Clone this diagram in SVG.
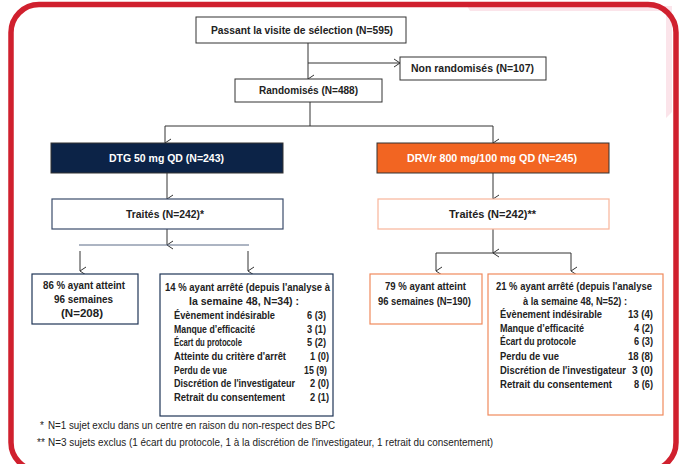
<svg xmlns="http://www.w3.org/2000/svg" width="681" height="464" viewBox="0 0 681 464">
<defs>
<marker id="arr" markerWidth="10" markerHeight="10" refX="5" refY="8" orient="auto" markerUnits="userSpaceOnUse" viewBox="0 0 10 10">
<path d="M1,2 L5,8 L9,2" fill="none" stroke="#333" stroke-width="1"/>
</marker>
<marker id="arrR" markerWidth="10" markerHeight="10" refX="8" refY="5" orient="0" markerUnits="userSpaceOnUse" viewBox="0 0 10 10">
<path d="M2,1 L8,5 L2,9" fill="none" stroke="#333" stroke-width="1"/>
</marker>
</defs>
<style>
text{font-family:"Liberation Sans",Arial,sans-serif;font-size:11.5px;font-weight:bold;fill:#222;}
.c{text-anchor:middle;}
.r{text-anchor:end;}
.w{fill:#fff;}
.box{fill:#fff;stroke:#333;stroke-width:1;}
.nv{fill:#fff;stroke:#1f3556;stroke-width:1.2;}
.or{fill:#fff;stroke:#f08a5d;stroke-width:1.2;}
.ln{fill:none;stroke:#333;stroke-width:1;}
.fn{font-size:10px;font-weight:normal;}
</style>
<rect width="681" height="464" fill="#fff"/>
<path d="M467,6 L672,6 L672,112 L666,118 L666,11 L470,11 Z" fill="#fbe4ea"/>
<rect x="11" y="4.5" width="665" height="466" rx="28" fill="none" stroke="#d0202e" stroke-width="5.5"/>

<g id="connectors">
<line class="ln" x1="308" y1="43" x2="308" y2="79" marker-end="url(#arr)"/>
<line class="ln" x1="308" y1="63" x2="400" y2="63" marker-end="url(#arrR)"/>
<line class="ln" x1="310" y1="102" x2="310" y2="126"/>
<line class="ln" x1="165" y1="126" x2="493" y2="126"/>
<line class="ln" x1="165" y1="126" x2="165" y2="143" marker-end="url(#arr)"/>
<line class="ln" x1="493" y1="126" x2="493" y2="143" marker-end="url(#arr)"/>
<line class="ln" x1="167" y1="173" x2="167" y2="199" marker-end="url(#arr)"/>
<line class="ln" x1="493" y1="173" x2="493" y2="199" marker-end="url(#arr)"/>
<line class="ln" x1="167" y1="229" x2="167" y2="245" marker-end="url(#arr)"/>
<line x1="79" y1="245" x2="249" y2="245" stroke="#5a6b86" stroke-width="1"/>
<line class="ln" x1="80" y1="251" x2="80" y2="271" marker-end="url(#arr)"/>
<line class="ln" x1="248" y1="251" x2="248" y2="271" marker-end="url(#arr)"/>
<line class="ln" x1="493" y1="229" x2="493" y2="253" marker-end="url(#arr)"/>
<line class="ln" x1="436" y1="253" x2="571" y2="253"/>
<line class="ln" x1="436" y1="253" x2="436" y2="271" marker-end="url(#arr)"/>
<line class="ln" x1="571" y1="253" x2="571" y2="271" marker-end="url(#arr)"/>
</g>

<g id="n-selection">
<rect class="box" x="196" y="17" width="210" height="26"/>
<text x="211" y="34" textLength="182" lengthAdjust="spacingAndGlyphs">Passant la visite de sélection (N=595)</text>
</g>
<g id="n-nonrand">
<rect class="box" x="400" y="57" width="146" height="23"/>
<text x="411" y="72" textLength="123" lengthAdjust="spacingAndGlyphs">Non randomisés (N=107)</text>
</g>
<g id="n-rand">
<rect class="box" x="235" y="79" width="147" height="23"/>
<text x="259" y="94" textLength="99" lengthAdjust="spacingAndGlyphs">Randomisés (N=488)</text>
</g>
<g id="n-dtg">
<rect x="51" y="143" width="232" height="30" fill="#0c2347" stroke="#333" stroke-width="1"/>
<text class="w" x="109" y="162" textLength="115" lengthAdjust="spacingAndGlyphs">DTG 50 mg QD (N=243)</text>
</g>
<g id="n-drv">
<rect x="377" y="143" width="232" height="30" fill="#f26522" stroke="#333" stroke-width="1"/>
<text class="w" x="407" y="162" textLength="170" lengthAdjust="spacingAndGlyphs">DRV/r 800 mg/100 mg QD (N=245)</text>
</g>
<g id="n-traites-l">
<rect x="52" y="199" width="231" height="30" fill="#fff" stroke="#3b4c6b" stroke-width="1.2"/>
<text x="126" y="218" textLength="78" lengthAdjust="spacingAndGlyphs">Traités (N=242)*</text>
</g>
<g id="n-traites-r">
<rect x="378" y="199" width="231" height="30" fill="#fff" stroke="#f8b59a" stroke-width="1.2"/>
<text x="449" y="218" textLength="87" lengthAdjust="spacingAndGlyphs">Traités (N=242)**</text>
</g>
<g id="n-atteint-l">
<rect class="nv" x="32" y="274" width="106" height="50"/>
<text x="43" y="289" textLength="82" lengthAdjust="spacingAndGlyphs">86 % ayant atteint</text>
<text x="54" y="303" textLength="59" lengthAdjust="spacingAndGlyphs">96 semaines</text>
<text x="61" y="317" textLength="42" lengthAdjust="spacingAndGlyphs">(N=208)</text>
</g>
<g id="n-arret-l">
<rect class="nv" x="160" y="274" width="173" height="142"/>
<text x="165" y="291" textLength="165" lengthAdjust="spacingAndGlyphs">14 % ayant arrêté (depuis l'analyse à</text>
<text x="189" y="305" textLength="110" lengthAdjust="spacingAndGlyphs">la semaine 48, N=34) :</text>
<text x="174" y="319" textLength="101" lengthAdjust="spacingAndGlyphs">Évènement indésirable</text><text x="307" y="319" textLength="19" lengthAdjust="spacingAndGlyphs">6 (3)</text>
<text x="174" y="333" textLength="81" lengthAdjust="spacingAndGlyphs">Manque d’efficacité</text><text x="307" y="333" textLength="19" lengthAdjust="spacingAndGlyphs">3 (1)</text>
<text x="174" y="346" textLength="68" lengthAdjust="spacingAndGlyphs">Écart du protocole</text><text x="307" y="346" textLength="19" lengthAdjust="spacingAndGlyphs">5 (2)</text>
<text x="174" y="360" textLength="112" lengthAdjust="spacingAndGlyphs">Atteinte du critère d'arrêt</text><text x="310" y="360" textLength="19" lengthAdjust="spacingAndGlyphs">1 (0)</text>
<text x="174" y="374" textLength="53" lengthAdjust="spacingAndGlyphs">Perdu de vue</text><text x="304" y="374" textLength="23" lengthAdjust="spacingAndGlyphs">15 (9)</text>
<text x="174" y="387" textLength="121" lengthAdjust="spacingAndGlyphs">Discrétion de l'investigateur</text><text x="310" y="387" textLength="19" lengthAdjust="spacingAndGlyphs">2 (0)</text>
<text x="174" y="401" textLength="111" lengthAdjust="spacingAndGlyphs">Retrait du consentement</text><text x="310" y="401" textLength="19" lengthAdjust="spacingAndGlyphs">2 (1)</text>
</g>
<g id="n-atteint-r">
<rect class="or" x="370" y="274" width="112" height="50"/>
<text x="385" y="290" textLength="81" lengthAdjust="spacingAndGlyphs">79 % ayant atteint</text>
<text x="378" y="305" textLength="93" lengthAdjust="spacingAndGlyphs">96 semaines (N=190)</text>
</g>
<g id="n-arret-r">
<rect class="or" x="488" y="274" width="175" height="141"/>
<text x="496" y="290" textLength="156" lengthAdjust="spacingAndGlyphs">21 % ayant arrêté (depuis l'analyse</text>
<text x="523" y="305" textLength="104" lengthAdjust="spacingAndGlyphs">à la semaine 48, N=52) :</text>
<text x="500" y="318" textLength="102" lengthAdjust="spacingAndGlyphs">Évènement indésirable</text><text x="628" y="318" textLength="25" lengthAdjust="spacingAndGlyphs">13 (4)</text>
<text x="500" y="332" textLength="84" lengthAdjust="spacingAndGlyphs">Manque d’efficacité</text><text x="634" y="332" textLength="19" lengthAdjust="spacingAndGlyphs">4 (2)</text>
<text x="500" y="345" textLength="76" lengthAdjust="spacingAndGlyphs">Écart du protocole</text><text x="634" y="345" textLength="19" lengthAdjust="spacingAndGlyphs">6 (3)</text>
<text x="500" y="360" textLength="59" lengthAdjust="spacingAndGlyphs">Perdu de vue</text><text x="628" y="360" textLength="25" lengthAdjust="spacingAndGlyphs">18 (8)</text>
<text x="500" y="374" textLength="126" lengthAdjust="spacingAndGlyphs">Discrétion de l'investigateur</text><text x="632" y="374" textLength="21" lengthAdjust="spacingAndGlyphs">3 (0)</text>
<text x="500" y="388" textLength="112" lengthAdjust="spacingAndGlyphs">Retrait du consentement</text><text x="634" y="388" textLength="19" lengthAdjust="spacingAndGlyphs">8 (6)</text>
</g>
<g id="footnotes">
<text class="fn" x="40" y="429">*</text>
<text class="fn" x="48" y="429" textLength="287" lengthAdjust="spacingAndGlyphs">N=1 sujet exclu dans un centre en raison du non-respect des BPC</text>
<text class="fn" x="37" y="446">**</text>
<text class="fn" x="48" y="446" textLength="445" lengthAdjust="spacingAndGlyphs">N=3 sujets exclus (1 écart du protocole, 1 à la discrétion de l'investigateur, 1 retrait du consentement)</text>
</g>
</svg>
